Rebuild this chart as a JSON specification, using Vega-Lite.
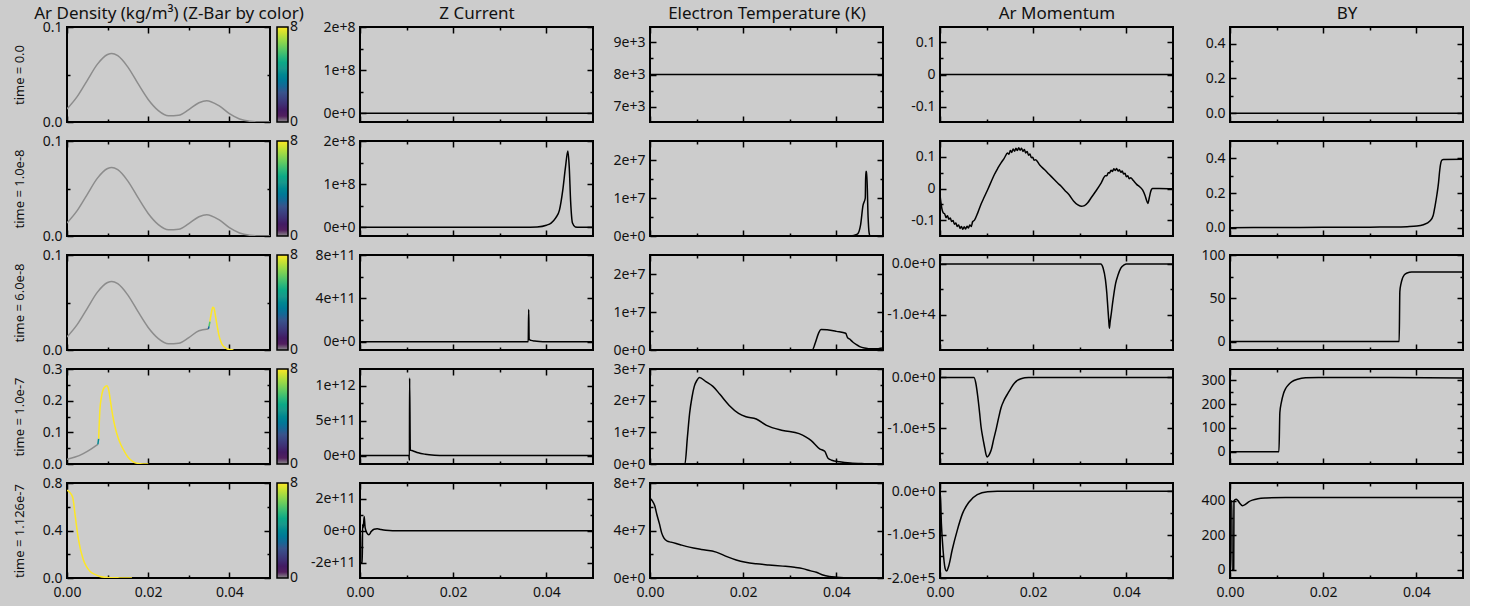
{
"$schema":"https://vega.github.io/schema/vega-lite/v6.json",
"background":"#cccccc",
"padding":{"left":12,"top":3,"right":5,"bottom":5},
"columns":5,
"spacing":{"row":3,"column":0},
"align":"each",
"resolve":{"scale":{"color":"independent"},"legend":{"color":"independent"}},
"config":{
 "font":"Noto Sans",
 "view":{"stroke":"black","strokeWidth":2},
 "axis":{"domain":false,"grid":false,"tickColor":"black","tickWidth":1.5,"labelFont":"Noto Sans","labelFontSize":14,"labelColor":"#111111","labelPadding":11,"labelFlush":false,"labelOverlap":false,"labelBound":false,"titleFont":"Noto Sans","titleFontSize":13,"titleFontWeight":"normal","titleColor":"#111111"},
 "axisTop":{"titleFontSize":17,"titlePadding":5,"minExtent":0,"maxExtent":0},
 "legend":{"labelFont":"Noto Sans","labelFontSize":14,"labelColor":"#111111"}
},
"datasets":{
 "dens_a":[{"x":0,"y":0.0137,"z":0,"seg":"a"},{"x":0.0025,"y":0.0267,"z":0,"seg":"a"},{"x":0.005,"y":0.0439,"z":0,"seg":"a"},{"x":0.0075,"y":0.0609,"z":0,"seg":"a"},{"x":0.01,"y":0.071,"z":0,"seg":"a"},{"x":0.011,"y":0.0722,"z":0,"seg":"a"},{"x":0.0125,"y":0.0698,"z":0,"seg":"a"},{"x":0.015,"y":0.0578,"z":0,"seg":"a"},{"x":0.0175,"y":0.0403,"z":0,"seg":"a"},{"x":0.02,"y":0.0237,"z":0,"seg":"a"},{"x":0.0225,"y":0.012,"z":0,"seg":"a"},{"x":0.025,"y":0.0065,"z":0,"seg":"a"},{"x":0.0275,"y":0.0071,"z":0,"seg":"a"},{"x":0.03,"y":0.0131,"z":0,"seg":"a"},{"x":0.0325,"y":0.0203,"z":0,"seg":"a"},{"x":0.0344,"y":0.0225,"z":0,"seg":"a"},{"x":0.0375,"y":0.0169,"z":0,"seg":"a"},{"x":0.04,"y":0.0088,"z":0,"seg":"a"},{"x":0.0425,"y":0.0032,"z":0,"seg":"a"},{"x":0.045,"y":0.0008,"z":0,"seg":"a"},{"x":0.0475,"y":0.0001,"z":0,"seg":"a"},{"x":0.05,"y":0,"z":0,"seg":"a"}],
 "dens_r3":[{"x":0,"y":0.0137,"z":0,"seg":"a"},{"x":0.0025,"y":0.0267,"z":0,"seg":"a"},{"x":0.005,"y":0.0439,"z":0,"seg":"a"},{"x":0.0075,"y":0.0609,"z":0,"seg":"a"},{"x":0.01,"y":0.071,"z":0,"seg":"a"},{"x":0.011,"y":0.0722,"z":0,"seg":"a"},{"x":0.0125,"y":0.0698,"z":0,"seg":"a"},{"x":0.015,"y":0.0578,"z":0,"seg":"a"},{"x":0.0175,"y":0.0403,"z":0,"seg":"a"},{"x":0.02,"y":0.0237,"z":0,"seg":"a"},{"x":0.0225,"y":0.012,"z":0,"seg":"a"},{"x":0.025,"y":0.0065,"z":0,"seg":"a"},{"x":0.0275,"y":0.0071,"z":0,"seg":"a"},{"x":0.03,"y":0.0131,"z":0,"seg":"a"},{"x":0.0325,"y":0.0203,"z":0,"seg":"a"},{"x":0.0348,"y":0.0221,"z":0,"seg":"a"},
  {"x":0.0348,"y":0.0221,"z":3,"seg":"b"},{"x":0.035,"y":0.025,"z":3,"seg":"b"},
  {"x":0.035,"y":0.025,"z":6,"seg":"c"},{"x":0.0352,"y":0.03,"z":6,"seg":"c"},
  {"x":0.0352,"y":0.03,"z":8,"seg":"d"},{"x":0.0356,"y":0.04,"z":8,"seg":"d"},{"x":0.0359,"y":0.045,"z":8,"seg":"d"},{"x":0.0362,"y":0.044,"z":8,"seg":"d"},{"x":0.0366,"y":0.035,"z":8,"seg":"d"},{"x":0.037,"y":0.025,"z":8,"seg":"d"},{"x":0.0374,"y":0.016,"z":8,"seg":"d"},{"x":0.0378,"y":0.01,"z":8,"seg":"d"},{"x":0.0382,"y":0.006,"z":8,"seg":"d"},{"x":0.0388,"y":0.003,"z":8,"seg":"d"},{"x":0.0395,"y":0.001,"z":8,"seg":"d"},{"x":0.041,"y":0,"z":8,"seg":"d"}],
 "dens_r4":[{"x":0,"y":0.015,"z":0,"seg":"a"},{"x":0.002,"y":0.022,"z":0,"seg":"a"},{"x":0.004,"y":0.033,"z":0,"seg":"a"},{"x":0.006,"y":0.048,"z":0,"seg":"a"},{"x":0.0076,"y":0.062,"z":0,"seg":"a"},
  {"x":0.0076,"y":0.062,"z":4,"seg":"b"},{"x":0.0078,"y":0.08,"z":4,"seg":"b"},
  {"x":0.0078,"y":0.08,"z":8,"seg":"d"},{"x":0.0081,"y":0.17,"z":8,"seg":"d"},{"x":0.0085,"y":0.213,"z":8,"seg":"d"},{"x":0.0091,"y":0.24,"z":8,"seg":"d"},{"x":0.0098,"y":0.247,"z":8,"seg":"d"},{"x":0.0103,"y":0.232,"z":8,"seg":"d"},{"x":0.0108,"y":0.19,"z":8,"seg":"d"},{"x":0.0113,"y":0.15,"z":8,"seg":"d"},{"x":0.0118,"y":0.119,"z":8,"seg":"d"},{"x":0.0126,"y":0.082,"z":8,"seg":"d"},{"x":0.0133,"y":0.06,"z":8,"seg":"d"},{"x":0.0139,"y":0.045,"z":8,"seg":"d"},{"x":0.015,"y":0.022,"z":8,"seg":"d"},{"x":0.0163,"y":0.007,"z":8,"seg":"d"},{"x":0.018,"y":0.001,"z":8,"seg":"d"},{"x":0.02,"y":0,"z":8,"seg":"d"}],
 "dens_r5":[{"x":0,"y":0.74,"z":8,"seg":"d"},{"x":0.0007,"y":0.72,"z":8,"seg":"d"},{"x":0.0014,"y":0.68,"z":8,"seg":"d"},{"x":0.002,"y":0.53,"z":8,"seg":"d"},{"x":0.0028,"y":0.33,"z":8,"seg":"d"},{"x":0.004,"y":0.155,"z":8,"seg":"d"},{"x":0.0048,"y":0.095,"z":8,"seg":"d"},{"x":0.0057,"y":0.055,"z":8,"seg":"d"},{"x":0.007,"y":0.028,"z":8,"seg":"d"},{"x":0.0081,"y":0.013,"z":8,"seg":"d"},{"x":0.0095,"y":0.006,"z":8,"seg":"d"},{"x":0.0106,"y":0.003,"z":8,"seg":"d"},{"x":0.013,"y":0.001,"z":8,"seg":"d"},{"x":0.016,"y":0,"z":8,"seg":"d"}],
 "flat0":[{"x":0,"y":0},{"x":0.05,"y":0}],
 "te_r1":[{"x":0,"y":8000},{"x":0.05,"y":8000}],
 "zc_r2":[{"x":0,"y":0},{"x":0.035,"y":0},{"x":0.038,"y":1e6},{"x":0.04,"y":5e6},{"x":0.041,"y":1e7},{"x":0.042,"y":2.2e7},{"x":0.0428,"y":4e7},{"x":0.0435,"y":8.5e7},{"x":0.0441,"y":1.4e8},{"x":0.0446,"y":1.77e8},{"x":0.0449,"y":1.4e8},{"x":0.0452,"y":6e7},{"x":0.0456,"y":1e7},{"x":0.0462,"y":1e6},{"x":0.047,"y":0},{"x":0.05,"y":0}],
 "zc_r3":[{"x":0,"y":0},{"x":0.0361,"y":0},{"x":0.0362,"y":2.96e11},{"x":0.0363,"y":2e10},{"x":0.0367,"y":1.2e10},{"x":0.0375,"y":6e9},{"x":0.0385,"y":2e9},{"x":0.04,"y":0},{"x":0.05,"y":0}],
 "zc_r4":[{"x":0,"y":0},{"x":0.0105,"y":0},{"x":0.0106,"y":-7e10},{"x":0.01065,"y":1.11e12},{"x":0.0108,"y":8e10},{"x":0.0113,"y":7e10},{"x":0.0125,"y":4e10},{"x":0.014,"y":2e10},{"x":0.016,"y":6e9},{"x":0.018,"y":0},{"x":0.05,"y":0}],
 "zc_r5":[{"x":0,"y":0},{"x":0.0001,"y":0},{"x":0.00015,"y":-2e11},{"x":0.0005,"y":-2e11},{"x":0.00055,"y":4e10},{"x":0.0007,"y":2e10},{"x":0.0009,"y":9e10},{"x":0.0011,"y":2e10},{"x":0.0015,"y":-1.5e10},{"x":0.0019,"y":-2.5e10},{"x":0.0024,"y":-5e9},{"x":0.003,"y":1e10},{"x":0.0037,"y":1.3e10},{"x":0.0045,"y":8e9},{"x":0.0055,"y":3e9},{"x":0.007,"y":0},{"x":0.05,"y":0}],
 "te_r2":[{"x":0,"y":0},{"x":0.043,"y":0},{"x":0.0445,"y":5e5},{"x":0.0452,"y":3e6},{"x":0.0457,"y":8e6},{"x":0.0462,"y":1e7},{"x":0.0463,"y":1.7e7},{"x":0.0465,"y":1.7e7},{"x":0.0468,"y":5e6},{"x":0.047,"y":1e6},{"x":0.0472,"y":0},{"x":0.05,"y":0}],
 "te_r3":[{"x":0,"y":0},{"x":0.0348,"y":0},{"x":0.0355,"y":2e6},{"x":0.0362,"y":4.5e6},{"x":0.0367,"y":5.4e6},{"x":0.038,"y":5.3e6},{"x":0.04,"y":4.9e6},{"x":0.042,"y":4.4e6},{"x":0.0424,"y":3.2e6},{"x":0.0428,"y":2.9e6},{"x":0.0435,"y":2.1e6},{"x":0.0443,"y":1.4e6},{"x":0.045,"y":9e5},{"x":0.046,"y":5e5},{"x":0.047,"y":3.5e5},{"x":0.048,"y":3e5},{"x":0.049,"y":3.5e5},{"x":0.05,"y":5e5}],
 "te_r4":[{"x":0,"y":0},{"x":0.0075,"y":0},{"x":0.008,"y":8e6},{"x":0.0085,"y":1.6e7},{"x":0.009,"y":2.1e7},{"x":0.0095,"y":2.45e7},{"x":0.0101,"y":2.65e7},{"x":0.0106,"y":2.73e7},{"x":0.012,"y":2.6e7},{"x":0.0135,"y":2.45e7},{"x":0.015,"y":2.2e7},{"x":0.017,"y":1.85e7},{"x":0.019,"y":1.6e7},{"x":0.0206,"y":1.49e7},{"x":0.0228,"y":1.42e7},{"x":0.025,"y":1.22e7},{"x":0.0285,"y":1.06e7},{"x":0.032,"y":9.6e6},{"x":0.0335,"y":8.5e6},{"x":0.0346,"y":7.4e6},{"x":0.0364,"y":4.8e6},{"x":0.0375,"y":4e6},{"x":0.0382,"y":1.8e6},{"x":0.039,"y":1.2e6},{"x":0.0407,"y":7e5},{"x":0.043,"y":3e5},{"x":0.046,"y":1e5},{"x":0.05,"y":0}],
 "te_r5":[{"x":0,"y":6.7e7},{"x":0.0005,"y":6.5e7},{"x":0.001,"y":6.1e7},{"x":0.0015,"y":5.3e7},{"x":0.002,"y":4.6e7},{"x":0.0025,"y":3.8e7},{"x":0.003,"y":3.35e7},{"x":0.0037,"y":3.1e7},{"x":0.0045,"y":3.02e7},{"x":0.0065,"y":2.8e7},{"x":0.00845,"y":2.6e7},{"x":0.011,"y":2.4e7},{"x":0.0142,"y":2.18e7},{"x":0.0165,"y":1.8e7},{"x":0.0185,"y":1.52e7},{"x":0.0205,"y":1.33e7},{"x":0.0228,"y":1.2e7},{"x":0.0255,"y":1.1e7},{"x":0.0285,"y":1e7},{"x":0.031,"y":9e6},{"x":0.0328,"y":7.9e6},{"x":0.0345,"y":6e6},{"x":0.0357,"y":4.8e6},{"x":0.0371,"y":2.5e6},{"x":0.0385,"y":1.3e6},{"x":0.04,"y":7e5},{"x":0.043,"y":1e5},{"x":0.05,"y":0}],
 "am_r2":[{"x":0,"y":-0.02},{"x":0.0003,"y":-0.055},{"x":0.0007,"y":-0.077},
  {"x":0.001,"y":-0.08},{"x":0.0013,"y":-0.092},{"x":0.0016,"y":-0.086},{"x":0.0019,"y":-0.097},{"x":0.0022,"y":-0.093},{"x":0.0025,"y":-0.104},{"x":0.0028,"y":-0.101},{"x":0.0031,"y":-0.113},{"x":0.0034,"y":-0.109},{"x":0.0037,"y":-0.12},{"x":0.004,"y":-0.115},{"x":0.0043,"y":-0.126},{"x":0.0046,"y":-0.12},{"x":0.0049,"y":-0.129},{"x":0.0052,"y":-0.121},{"x":0.0055,"y":-0.128},{"x":0.0058,"y":-0.119},{"x":0.0061,"y":-0.125},{"x":0.0064,"y":-0.115},{"x":0.0067,"y":-0.12},{"x":0.007,"y":-0.105},
  {"x":0.0074,"y":-0.1},{"x":0.0081,"y":-0.077},{"x":0.0088,"y":-0.05},{"x":0.0095,"y":-0.027},{"x":0.01025,"y":-0.003},{"x":0.011,"y":0.022},{"x":0.0117,"y":0.045},{"x":0.0124,"y":0.064},{"x":0.0131,"y":0.081},{"x":0.0138,"y":0.096},
  {"x":0.0145,"y":0.112},{"x":0.0148,"y":0.108},{"x":0.0151,"y":0.12},{"x":0.0154,"y":0.114},{"x":0.0157,"y":0.125},{"x":0.016,"y":0.118},{"x":0.0163,"y":0.127},{"x":0.0166,"y":0.12},{"x":0.0169,"y":0.129},{"x":0.0172,"y":0.121},{"x":0.0175,"y":0.127},{"x":0.0178,"y":0.117},{"x":0.0181,"y":0.123},{"x":0.0184,"y":0.112},{"x":0.0187,"y":0.117},{"x":0.019,"y":0.105},{"x":0.0193,"y":0.109},{"x":0.0196,"y":0.097},{"x":0.0199,"y":0.099},{"x":0.0202,"y":0.089},{"x":0.0205,"y":0.091},
  {"x":0.0214,"y":0.074},{"x":0.0224,"y":0.06},{"x":0.0234,"y":0.045},{"x":0.0244,"y":0.03},{"x":0.0252,"y":0.018},{"x":0.026,"y":0.007},{"x":0.0268,"y":-0.006},{"x":0.0277,"y":-0.02},{"x":0.0287,"y":-0.04},{"x":0.0295,"y":-0.051},{"x":0.0303,"y":-0.056},{"x":0.031,"y":-0.054},{"x":0.0317,"y":-0.045},{"x":0.0324,"y":-0.03},{"x":0.0335,"y":-0.007},{"x":0.0346,"y":0.018},
  {"x":0.0355,"y":0.04},{"x":0.0358,"y":0.04},{"x":0.0361,"y":0.05},{"x":0.0364,"y":0.049},{"x":0.0367,"y":0.058},{"x":0.037,"y":0.054},{"x":0.0373,"y":0.062},{"x":0.0376,"y":0.057},{"x":0.0379,"y":0.063},{"x":0.0382,"y":0.055},{"x":0.0385,"y":0.059},{"x":0.0388,"y":0.051},{"x":0.0391,"y":0.055},{"x":0.0394,"y":0.046},{"x":0.0397,"y":0.048},{"x":0.04,"y":0.037},{"x":0.0403,"y":0.04},{"x":0.0406,"y":0.031},{"x":0.0409,"y":0.034},
  {"x":0.0415,"y":0.025},{"x":0.0422,"y":0.013},{"x":0.0429,"y":0.005},{"x":0.0435,"y":-0.005},{"x":0.044,"y":-0.022},{"x":0.0443,"y":-0.036},{"x":0.0446,"y":-0.047},{"x":0.0449,"y":-0.03},{"x":0.0452,"y":-0.01},{"x":0.0456,"y":0},{"x":0.047,"y":0},{"x":0.05,"y":-0.001}],
 "am_r3":[{"x":0,"y":0},{"x":0.0345,"y":0},{"x":0.035,"y":-800},{"x":0.0355,"y":-3100},{"x":0.0358,"y":-5800},{"x":0.036,"y":-8400},{"x":0.0362,"y":-11000},{"x":0.03635,"y":-12700},{"x":0.0365,"y":-11500},{"x":0.0368,"y":-9500},{"x":0.037,"y":-8000},{"x":0.0373,"y":-6000},{"x":0.0377,"y":-3800},{"x":0.0382,"y":-2200},{"x":0.0388,"y":-850},{"x":0.0395,"y":-200},{"x":0.04,"y":0},{"x":0.05,"y":0}],
 "am_r4":[{"x":0,"y":0},{"x":0.0073,"y":0},{"x":0.0077,"y":-12000},{"x":0.0081,"y":-37500},{"x":0.0085,"y":-70000},{"x":0.0088,"y":-97000},{"x":0.0092,"y":-120000},{"x":0.0096,"y":-139000},{"x":0.0099,"y":-153000},{"x":0.0101,"y":-157000},{"x":0.0104,"y":-155000},{"x":0.0107,"y":-150000},{"x":0.011,"y":-143000},{"x":0.0115,"y":-123000},{"x":0.0121,"y":-100000},{"x":0.0126,"y":-79000},{"x":0.0131,"y":-60000},{"x":0.0138,"y":-44000},{"x":0.0146,"y":-31000},{"x":0.0153,"y":-20000},{"x":0.016,"y":-11000},{"x":0.0167,"y":-5500},{"x":0.0174,"y":-2600},{"x":0.0182,"y":-800},{"x":0.019,"y":0},{"x":0.05,"y":0}],
 "am_r5":[{"x":0,"y":0},{"x":0.00005,"y":0},{"x":0.0003,"y":-75000},{"x":0.00066,"y":-136000},{"x":0.0011,"y":-178000},{"x":0.0014,"y":-184000},{"x":0.0019,"y":-171000},{"x":0.0026,"y":-136000},{"x":0.0037,"y":-90000},{"x":0.0048,"y":-52000},{"x":0.0062,"y":-25000},{"x":0.008,"y":-7600},{"x":0.0102,"y":-1000},{"x":0.0123,"y":0},{"x":0.05,"y":0}],
 "by_r2":[{"x":0,"y":0},{"x":0.01,"y":0.001},{"x":0.02,"y":0.002},{"x":0.03,"y":0.003},{"x":0.035,"y":0.004},{"x":0.038,"y":0.006},{"x":0.0401,"y":0.009},{"x":0.0415,"y":0.017},{"x":0.0429,"y":0.038},{"x":0.0436,"y":0.07},{"x":0.044,"y":0.125},{"x":0.0444,"y":0.19},{"x":0.04475,"y":0.26},{"x":0.045,"y":0.33},{"x":0.04525,"y":0.375},{"x":0.0455,"y":0.39},{"x":0.0458,"y":0.394},{"x":0.05,"y":0.395}],
 "by_r3":[{"x":0,"y":0},{"x":0.0363,"y":0},{"x":0.03645,"y":58},{"x":0.0367,"y":67},{"x":0.037,"y":73},{"x":0.0374,"y":77},{"x":0.038,"y":79.3},{"x":0.039,"y":80.3},{"x":0.05,"y":80.5}],
 "by_r4":[{"x":0,"y":0},{"x":0.0105,"y":0},{"x":0.0107,"y":165},{"x":0.011,"y":205},{"x":0.0115,"y":246},{"x":0.012,"y":268},{"x":0.0127,"y":285},{"x":0.0133,"y":295},{"x":0.0145,"y":305},{"x":0.0162,"y":311},{"x":0.019,"y":312},{"x":0.03,"y":312},{"x":0.05,"y":310}],
 "by_r5":[{"x":0,"y":398},{"x":0.0004,"y":398},{"x":0.00045,"y":0},{"x":0.0008,"y":0},{"x":0.00085,"y":398},{"x":0.0013,"y":408},{"x":0.0017,"y":400},{"x":0.0021,"y":385},{"x":0.0027,"y":371},{"x":0.0033,"y":378},{"x":0.004,"y":393},{"x":0.0048,"y":403},{"x":0.006,"y":411},{"x":0.0077,"y":415},{"x":0.012,"y":418},{"x":0.05,"y":418}]
},
"concat":[
 {"width":203,"height":95,"data":{"name":"dens_a"},
  "layer":[
   {"mark":{"type":"line","strokeWidth":1.5,"interpolate":"monotone","clip":true},
    "encoding":{
     "x":{"field":"x","type":"quantitative","scale":{"domain":[0,0.05],"nice":false,"zero":false},"axis":{"orient":"bottom","values":[0,0.01,0.02,0.03,0.04],"tickSize":{"condition":{"test":"indexof([0,0.02,0.04],datum.value)>=0","value":-6},"value":-3},"labels":false,"title":null}},
     "y":{"field":"y","type":"quantitative","scale":{"domain":[0,0.1],"nice":false,"zero":false},"axis":{"orient":"left","values":[0,0.05,0.1],"tickSize":{"condition":{"test":"indexof([0,0.1],datum.value)>=0","value":-6},"value":-3},"labelExpr":"indexof([0,0.1],datum.value)>=0 ? ['0.0','0.1'][indexof([0,0.1],datum.value)] : ''","title":"time = 0.0","titlePadding":15,"minExtent":26}},
     "color":{"field":"z","type":"quantitative","scale":{"domain":[0,0.6,2.45,4.3,6.15,8],"range":["#8c8c8c","#440154","#3b528b","#21918c","#5ec962","#fde725"],"nice":false,"zero":false},"legend":{"values":[0,8],"title":null,"gradientLength":95,"gradientThickness":11,"gradientStrokeColor":"black","gradientStrokeWidth":1.5,"offset":6,"labelPadding":6,"labelOverlap":false,"direction":"vertical","orient":"right","encode":{"labels":{"update":{"baseline":{"value":"middle"}}}}}},
     "detail":{"field":"seg"}}},
   {"mark":{"type":"line","strokeOpacity":0},
    "encoding":{
     "x":{"field":"x","type":"quantitative","scale":{"domain":[0,0.05],"nice":false,"zero":false},"axis":{"orient":"top","values":[0,0.01,0.02,0.03,0.04],"tickSize":{"condition":{"test":"indexof([0,0.02,0.04],datum.value)>=0","value":-6},"value":-3},"labels":false,"title":"Ar Density (kg/m³) (Z-Bar by color)"}},
     "y":{"field":"y","type":"quantitative","scale":{"domain":[0,0.1],"nice":false,"zero":false},"axis":{"orient":"right","values":[0,0.05,0.1],"tickSize":{"condition":{"test":"indexof([0,0.1],datum.value)>=0","value":-6},"value":-3},"labels":false,"title":null}}}}
  ],
  "resolve":{"axis":{"x":"independent","y":"independent"}}},
 {"width":233,"height":95,"data":{"name":"flat0"},
  "layer":[
   {"mark":{"type":"line","color":"black","strokeWidth":1.5,"interpolate":"monotone","clip":true},
    "encoding":{
     "x":{"field":"x","type":"quantitative","scale":{"domain":[0,0.05],"nice":false,"zero":false},"axis":{"orient":"bottom","values":[0,0.01,0.02,0.03,0.04],"tickSize":{"condition":{"test":"indexof([0,0.02,0.04],datum.value)>=0","value":-6},"value":-3},"labels":false,"title":null}},
     "y":{"field":"y","type":"quantitative","scale":{"domain":[-2e7,2e8],"nice":false,"zero":false},"axis":{"orient":"left","values":[0,5e7,1e8,1.5e8,2e8],"tickSize":{"condition":{"test":"indexof([0,1e8,2e8],datum.value)>=0","value":-6},"value":-3},"labelExpr":"indexof([0,1e8,2e8],datum.value)>=0 ? ['0e+0','1e+8','2e+8'][indexof([0,1e8,2e8],datum.value)] : ''","title":null,"minExtent":54}}}},
   {"mark":{"type":"line","strokeOpacity":0},
    "encoding":{
     "x":{"field":"x","type":"quantitative","scale":{"domain":[0,0.05],"nice":false,"zero":false},"axis":{"orient":"top","values":[0,0.01,0.02,0.03,0.04],"tickSize":{"condition":{"test":"indexof([0,0.02,0.04],datum.value)>=0","value":-6},"value":-3},"labels":false,"title":"Z Current"}},
     "y":{"field":"y","type":"quantitative","scale":{"domain":[-2e7,2e8],"nice":false,"zero":false},"axis":{"orient":"right","values":[0,5e7,1e8,1.5e8,2e8],"tickSize":{"condition":{"test":"indexof([0,1e8,2e8],datum.value)>=0","value":-6},"value":-3},"labels":false,"title":null}}}}
  ],
  "resolve":{"axis":{"x":"independent","y":"independent"}}},
 {"width":233,"height":95,"data":{"name":"te_r1"},
  "layer":[
   {"mark":{"type":"line","color":"black","strokeWidth":1.5,"interpolate":"monotone","clip":true},
    "encoding":{
     "x":{"field":"x","type":"quantitative","scale":{"domain":[0,0.05],"nice":false,"zero":false},"axis":{"orient":"bottom","values":[0,0.01,0.02,0.03,0.04],"tickSize":{"condition":{"test":"indexof([0,0.02,0.04],datum.value)>=0","value":-6},"value":-3},"labels":false,"title":null}},
     "y":{"field":"y","type":"quantitative","scale":{"domain":[6520,9480],"nice":false,"zero":false},"axis":{"orient":"left","values":[7000,7500,8000,8500,9000],"tickSize":{"condition":{"test":"indexof([7000,8000,9000],datum.value)>=0","value":-6},"value":-3},"labelExpr":"indexof([7000,8000,9000],datum.value)>=0 ? ['7e+3','8e+3','9e+3'][indexof([7000,8000,9000],datum.value)] : ''","title":null,"minExtent":54}}}},
   {"mark":{"type":"line","strokeOpacity":0},
    "encoding":{
     "x":{"field":"x","type":"quantitative","scale":{"domain":[0,0.05],"nice":false,"zero":false},"axis":{"orient":"top","values":[0,0.01,0.02,0.03,0.04],"tickSize":{"condition":{"test":"indexof([0,0.02,0.04],datum.value)>=0","value":-6},"value":-3},"labels":false,"title":"Electron Temperature (K)"}},
     "y":{"field":"y","type":"quantitative","scale":{"domain":[6520,9480],"nice":false,"zero":false},"axis":{"orient":"right","values":[7000,7500,8000,8500,9000],"tickSize":{"condition":{"test":"indexof([7000,8000,9000],datum.value)>=0","value":-6},"value":-3},"labels":false,"title":null}}}}
  ],
  "resolve":{"axis":{"x":"independent","y":"independent"}}},
 {"width":233,"height":95,"data":{"name":"flat0"},
  "layer":[
   {"mark":{"type":"line","color":"black","strokeWidth":1.5,"interpolate":"monotone","clip":true},
    "encoding":{
     "x":{"field":"x","type":"quantitative","scale":{"domain":[0,0.05],"nice":false,"zero":false},"axis":{"orient":"bottom","values":[0,0.01,0.02,0.03,0.04],"tickSize":{"condition":{"test":"indexof([0,0.02,0.04],datum.value)>=0","value":-6},"value":-3},"labels":false,"title":null}},
     "y":{"field":"y","type":"quantitative","scale":{"domain":[-0.147,0.147],"nice":false,"zero":false},"axis":{"orient":"left","values":[-0.1,-0.05,0,0.05,0.1],"tickSize":{"condition":{"test":"indexof([-0.1,0,0.1],datum.value)>=0","value":-6},"value":-3},"labelExpr":"indexof([-0.1,0,0.1],datum.value)>=0 ? ['-0.1','0','0.1'][indexof([-0.1,0,0.1],datum.value)] : ''","title":null,"minExtent":54}}}},
   {"mark":{"type":"line","strokeOpacity":0},
    "encoding":{
     "x":{"field":"x","type":"quantitative","scale":{"domain":[0,0.05],"nice":false,"zero":false},"axis":{"orient":"top","values":[0,0.01,0.02,0.03,0.04],"tickSize":{"condition":{"test":"indexof([0,0.02,0.04],datum.value)>=0","value":-6},"value":-3},"labels":false,"title":"Ar Momentum"}},
     "y":{"field":"y","type":"quantitative","scale":{"domain":[-0.147,0.147],"nice":false,"zero":false},"axis":{"orient":"right","values":[-0.1,-0.05,0,0.05,0.1],"tickSize":{"condition":{"test":"indexof([-0.1,0,0.1],datum.value)>=0","value":-6},"value":-3},"labels":false,"title":null}}}}
  ],
  "resolve":{"axis":{"x":"independent","y":"independent"}}},
 {"width":233,"height":95,"data":{"name":"flat0"},
  "layer":[
   {"mark":{"type":"line","color":"black","strokeWidth":1.5,"interpolate":"monotone","clip":true},
    "encoding":{
     "x":{"field":"x","type":"quantitative","scale":{"domain":[0,0.05],"nice":false,"zero":false},"axis":{"orient":"bottom","values":[0,0.01,0.02,0.03,0.04],"tickSize":{"condition":{"test":"indexof([0,0.02,0.04],datum.value)>=0","value":-6},"value":-3},"labels":false,"title":null}},
     "y":{"field":"y","type":"quantitative","scale":{"domain":[-0.05,0.495],"nice":false,"zero":false},"axis":{"orient":"left","values":[0,0.1,0.2,0.3,0.4],"tickSize":{"condition":{"test":"indexof([0,0.2,0.4],datum.value)>=0","value":-6},"value":-3},"labelExpr":"indexof([0,0.2,0.4],datum.value)>=0 ? ['0.0','0.2','0.4'][indexof([0,0.2,0.4],datum.value)] : ''","title":null,"minExtent":54}}}},
   {"mark":{"type":"line","strokeOpacity":0},
    "encoding":{
     "x":{"field":"x","type":"quantitative","scale":{"domain":[0,0.05],"nice":false,"zero":false},"axis":{"orient":"top","values":[0,0.01,0.02,0.03,0.04],"tickSize":{"condition":{"test":"indexof([0,0.02,0.04],datum.value)>=0","value":-6},"value":-3},"labels":false,"title":"BY"}},
     "y":{"field":"y","type":"quantitative","scale":{"domain":[-0.05,0.495],"nice":false,"zero":false},"axis":{"orient":"right","values":[0,0.1,0.2,0.3,0.4],"tickSize":{"condition":{"test":"indexof([0,0.2,0.4],datum.value)>=0","value":-6},"value":-3},"labels":false,"title":null}}}}
  ],
  "resolve":{"axis":{"x":"independent","y":"independent"}}},

 {"width":203,"height":95,"data":{"name":"dens_a"},
  "layer":[
   {"mark":{"type":"line","strokeWidth":1.5,"interpolate":"monotone","clip":true},
    "encoding":{
     "x":{"field":"x","type":"quantitative","scale":{"domain":[0,0.05],"nice":false,"zero":false},"axis":{"orient":"bottom","values":[0,0.01,0.02,0.03,0.04],"tickSize":{"condition":{"test":"indexof([0,0.02,0.04],datum.value)>=0","value":-6},"value":-3},"labels":false,"title":null}},
     "y":{"field":"y","type":"quantitative","scale":{"domain":[0,0.1],"nice":false,"zero":false},"axis":{"orient":"left","values":[0,0.05,0.1],"tickSize":{"condition":{"test":"indexof([0,0.1],datum.value)>=0","value":-6},"value":-3},"labelExpr":"indexof([0,0.1],datum.value)>=0 ? ['0.0','0.1'][indexof([0,0.1],datum.value)] : ''","title":"time = 1.0e-8","titlePadding":15,"minExtent":26}},
     "color":{"field":"z","type":"quantitative","scale":{"domain":[0,0.6,2.45,4.3,6.15,8],"range":["#8c8c8c","#440154","#3b528b","#21918c","#5ec962","#fde725"],"nice":false,"zero":false},"legend":{"values":[0,8],"title":null,"gradientLength":95,"gradientThickness":11,"gradientStrokeColor":"black","gradientStrokeWidth":1.5,"offset":6,"labelPadding":6,"labelOverlap":false,"direction":"vertical","orient":"right","encode":{"labels":{"update":{"baseline":{"value":"middle"}}}}}},
     "detail":{"field":"seg"}}},
   {"mark":{"type":"line","strokeOpacity":0},
    "encoding":{
     "x":{"field":"x","type":"quantitative","scale":{"domain":[0,0.05],"nice":false,"zero":false},"axis":{"orient":"top","values":[0,0.01,0.02,0.03,0.04],"tickSize":{"condition":{"test":"indexof([0,0.02,0.04],datum.value)>=0","value":-6},"value":-3},"labels":false,"title":null}},
     "y":{"field":"y","type":"quantitative","scale":{"domain":[0,0.1],"nice":false,"zero":false},"axis":{"orient":"right","values":[0,0.05,0.1],"tickSize":{"condition":{"test":"indexof([0,0.1],datum.value)>=0","value":-6},"value":-3},"labels":false,"title":null}}}}
  ],
  "resolve":{"axis":{"x":"independent","y":"independent"}}},
 {"width":233,"height":95,"data":{"name":"zc_r2"},
  "layer":[
   {"mark":{"type":"line","color":"black","strokeWidth":1.5,"interpolate":"monotone","clip":true},
    "encoding":{
     "x":{"field":"x","type":"quantitative","scale":{"domain":[0,0.05],"nice":false,"zero":false},"axis":{"orient":"bottom","values":[0,0.01,0.02,0.03,0.04],"tickSize":{"condition":{"test":"indexof([0,0.02,0.04],datum.value)>=0","value":-6},"value":-3},"labels":false,"title":null}},
     "y":{"field":"y","type":"quantitative","scale":{"domain":[-2e7,2e8],"nice":false,"zero":false},"axis":{"orient":"left","values":[0,5e7,1e8,1.5e8,2e8],"tickSize":{"condition":{"test":"indexof([0,1e8,2e8],datum.value)>=0","value":-6},"value":-3},"labelExpr":"indexof([0,1e8,2e8],datum.value)>=0 ? ['0e+0','1e+8','2e+8'][indexof([0,1e8,2e8],datum.value)] : ''","title":null,"minExtent":54}}}},
   {"mark":{"type":"line","strokeOpacity":0},
    "encoding":{
     "x":{"field":"x","type":"quantitative","scale":{"domain":[0,0.05],"nice":false,"zero":false},"axis":{"orient":"top","values":[0,0.01,0.02,0.03,0.04],"tickSize":{"condition":{"test":"indexof([0,0.02,0.04],datum.value)>=0","value":-6},"value":-3},"labels":false,"title":null}},
     "y":{"field":"y","type":"quantitative","scale":{"domain":[-2e7,2e8],"nice":false,"zero":false},"axis":{"orient":"right","values":[0,5e7,1e8,1.5e8,2e8],"tickSize":{"condition":{"test":"indexof([0,1e8,2e8],datum.value)>=0","value":-6},"value":-3},"labels":false,"title":null}}}}
  ],
  "resolve":{"axis":{"x":"independent","y":"independent"}}},
 {"width":233,"height":95,"data":{"name":"te_r2"},
  "layer":[
   {"mark":{"type":"line","color":"black","strokeWidth":1.5,"interpolate":"monotone","clip":true},
    "encoding":{
     "x":{"field":"x","type":"quantitative","scale":{"domain":[0,0.05],"nice":false,"zero":false},"axis":{"orient":"bottom","values":[0,0.01,0.02,0.03,0.04],"tickSize":{"condition":{"test":"indexof([0,0.02,0.04],datum.value)>=0","value":-6},"value":-3},"labels":false,"title":null}},
     "y":{"field":"y","type":"quantitative","scale":{"domain":[0,2.5e7],"nice":false,"zero":false},"axis":{"orient":"left","values":[0,5e6,1e7,1.5e7,2e7],"tickSize":{"condition":{"test":"indexof([0,1e7,2e7],datum.value)>=0","value":-6},"value":-3},"labelExpr":"indexof([0,1e7,2e7],datum.value)>=0 ? ['0e+0','1e+7','2e+7'][indexof([0,1e7,2e7],datum.value)] : ''","title":null,"minExtent":54}}}},
   {"mark":{"type":"line","strokeOpacity":0},
    "encoding":{
     "x":{"field":"x","type":"quantitative","scale":{"domain":[0,0.05],"nice":false,"zero":false},"axis":{"orient":"top","values":[0,0.01,0.02,0.03,0.04],"tickSize":{"condition":{"test":"indexof([0,0.02,0.04],datum.value)>=0","value":-6},"value":-3},"labels":false,"title":null}},
     "y":{"field":"y","type":"quantitative","scale":{"domain":[0,2.5e7],"nice":false,"zero":false},"axis":{"orient":"right","values":[0,5e6,1e7,1.5e7,2e7],"tickSize":{"condition":{"test":"indexof([0,1e7,2e7],datum.value)>=0","value":-6},"value":-3},"labels":false,"title":null}}}}
  ],
  "resolve":{"axis":{"x":"independent","y":"independent"}}},
 {"width":233,"height":95,"data":{"name":"am_r2"},
  "layer":[
   {"mark":{"type":"line","color":"black","strokeWidth":1.5,"interpolate":"monotone","clip":true},
    "encoding":{
     "x":{"field":"x","type":"quantitative","scale":{"domain":[0,0.05],"nice":false,"zero":false},"axis":{"orient":"bottom","values":[0,0.01,0.02,0.03,0.04],"tickSize":{"condition":{"test":"indexof([0,0.02,0.04],datum.value)>=0","value":-6},"value":-3},"labels":false,"title":null}},
     "y":{"field":"y","type":"quantitative","scale":{"domain":[-0.15,0.15],"nice":false,"zero":false},"axis":{"orient":"left","values":[-0.1,-0.05,0,0.05,0.1],"tickSize":{"condition":{"test":"indexof([-0.1,0,0.1],datum.value)>=0","value":-6},"value":-3},"labelExpr":"indexof([-0.1,0,0.1],datum.value)>=0 ? ['-0.1','0','0.1'][indexof([-0.1,0,0.1],datum.value)] : ''","title":null,"minExtent":54}}}},
   {"mark":{"type":"line","strokeOpacity":0},
    "encoding":{
     "x":{"field":"x","type":"quantitative","scale":{"domain":[0,0.05],"nice":false,"zero":false},"axis":{"orient":"top","values":[0,0.01,0.02,0.03,0.04],"tickSize":{"condition":{"test":"indexof([0,0.02,0.04],datum.value)>=0","value":-6},"value":-3},"labels":false,"title":null}},
     "y":{"field":"y","type":"quantitative","scale":{"domain":[-0.15,0.15],"nice":false,"zero":false},"axis":{"orient":"right","values":[-0.1,-0.05,0,0.05,0.1],"tickSize":{"condition":{"test":"indexof([-0.1,0,0.1],datum.value)>=0","value":-6},"value":-3},"labels":false,"title":null}}}}
  ],
  "resolve":{"axis":{"x":"independent","y":"independent"}}},
 {"width":233,"height":95,"data":{"name":"by_r2"},
  "layer":[
   {"mark":{"type":"line","color":"black","strokeWidth":1.5,"interpolate":"monotone","clip":true},
    "encoding":{
     "x":{"field":"x","type":"quantitative","scale":{"domain":[0,0.05],"nice":false,"zero":false},"axis":{"orient":"bottom","values":[0,0.01,0.02,0.03,0.04],"tickSize":{"condition":{"test":"indexof([0,0.02,0.04],datum.value)>=0","value":-6},"value":-3},"labels":false,"title":null}},
     "y":{"field":"y","type":"quantitative","scale":{"domain":[-0.048,0.5],"nice":false,"zero":false},"axis":{"orient":"left","values":[0,0.1,0.2,0.3,0.4],"tickSize":{"condition":{"test":"indexof([0,0.2,0.4],datum.value)>=0","value":-6},"value":-3},"labelExpr":"indexof([0,0.2,0.4],datum.value)>=0 ? ['0.0','0.2','0.4'][indexof([0,0.2,0.4],datum.value)] : ''","title":null,"minExtent":54}}}},
   {"mark":{"type":"line","strokeOpacity":0},
    "encoding":{
     "x":{"field":"x","type":"quantitative","scale":{"domain":[0,0.05],"nice":false,"zero":false},"axis":{"orient":"top","values":[0,0.01,0.02,0.03,0.04],"tickSize":{"condition":{"test":"indexof([0,0.02,0.04],datum.value)>=0","value":-6},"value":-3},"labels":false,"title":null}},
     "y":{"field":"y","type":"quantitative","scale":{"domain":[-0.048,0.5],"nice":false,"zero":false},"axis":{"orient":"right","values":[0,0.1,0.2,0.3,0.4],"tickSize":{"condition":{"test":"indexof([0,0.2,0.4],datum.value)>=0","value":-6},"value":-3},"labels":false,"title":null}}}}
  ],
  "resolve":{"axis":{"x":"independent","y":"independent"}}},

 {"width":203,"height":95,"data":{"name":"dens_r3"},
  "layer":[
   {"mark":{"type":"line","strokeWidth":1.5,"interpolate":"monotone","clip":true},
    "encoding":{
     "x":{"field":"x","type":"quantitative","scale":{"domain":[0,0.05],"nice":false,"zero":false},"axis":{"orient":"bottom","values":[0,0.01,0.02,0.03,0.04],"tickSize":{"condition":{"test":"indexof([0,0.02,0.04],datum.value)>=0","value":-6},"value":-3},"labels":false,"title":null}},
     "y":{"field":"y","type":"quantitative","scale":{"domain":[0,0.1],"nice":false,"zero":false},"axis":{"orient":"left","values":[0,0.05,0.1],"tickSize":{"condition":{"test":"indexof([0,0.1],datum.value)>=0","value":-6},"value":-3},"labelExpr":"indexof([0,0.1],datum.value)>=0 ? ['0.0','0.1'][indexof([0,0.1],datum.value)] : ''","title":"time = 6.0e-8","titlePadding":15,"minExtent":26}},
     "color":{"field":"z","type":"quantitative","scale":{"domain":[0,0.6,2.45,4.3,6.15,8],"range":["#8c8c8c","#440154","#3b528b","#21918c","#5ec962","#fde725"],"nice":false,"zero":false},"legend":{"values":[0,8],"title":null,"gradientLength":95,"gradientThickness":11,"gradientStrokeColor":"black","gradientStrokeWidth":1.5,"offset":6,"labelPadding":6,"labelOverlap":false,"direction":"vertical","orient":"right","encode":{"labels":{"update":{"baseline":{"value":"middle"}}}}}},
     "detail":{"field":"seg"}}},
   {"mark":{"type":"line","strokeOpacity":0},
    "encoding":{
     "x":{"field":"x","type":"quantitative","scale":{"domain":[0,0.05],"nice":false,"zero":false},"axis":{"orient":"top","values":[0,0.01,0.02,0.03,0.04],"tickSize":{"condition":{"test":"indexof([0,0.02,0.04],datum.value)>=0","value":-6},"value":-3},"labels":false,"title":null}},
     "y":{"field":"y","type":"quantitative","scale":{"domain":[0,0.1],"nice":false,"zero":false},"axis":{"orient":"right","values":[0,0.05,0.1],"tickSize":{"condition":{"test":"indexof([0,0.1],datum.value)>=0","value":-6},"value":-3},"labels":false,"title":null}}}}
  ],
  "resolve":{"axis":{"x":"independent","y":"independent"}}},
 {"width":233,"height":95,"data":{"name":"zc_r3"},
  "layer":[
   {"mark":{"type":"line","color":"black","strokeWidth":1.5,"interpolate":"monotone","clip":true},
    "encoding":{
     "x":{"field":"x","type":"quantitative","scale":{"domain":[0,0.05],"nice":false,"zero":false},"axis":{"orient":"bottom","values":[0,0.01,0.02,0.03,0.04],"tickSize":{"condition":{"test":"indexof([0,0.02,0.04],datum.value)>=0","value":-6},"value":-3},"labels":false,"title":null}},
     "y":{"field":"y","type":"quantitative","scale":{"domain":[-7.7e10,8e11],"nice":false,"zero":false},"axis":{"orient":"left","values":[0,2e11,4e11,6e11,8e11],"tickSize":{"condition":{"test":"indexof([0,4e11,8e11],datum.value)>=0","value":-6},"value":-3},"labelExpr":"indexof([0,4e11,8e11],datum.value)>=0 ? ['0e+0','4e+11','8e+11'][indexof([0,4e11,8e11],datum.value)] : ''","title":null,"minExtent":54}}}},
   {"mark":{"type":"line","strokeOpacity":0},
    "encoding":{
     "x":{"field":"x","type":"quantitative","scale":{"domain":[0,0.05],"nice":false,"zero":false},"axis":{"orient":"top","values":[0,0.01,0.02,0.03,0.04],"tickSize":{"condition":{"test":"indexof([0,0.02,0.04],datum.value)>=0","value":-6},"value":-3},"labels":false,"title":null}},
     "y":{"field":"y","type":"quantitative","scale":{"domain":[-7.7e10,8e11],"nice":false,"zero":false},"axis":{"orient":"right","values":[0,2e11,4e11,6e11,8e11],"tickSize":{"condition":{"test":"indexof([0,4e11,8e11],datum.value)>=0","value":-6},"value":-3},"labels":false,"title":null}}}}
  ],
  "resolve":{"axis":{"x":"independent","y":"independent"}}},
 {"width":233,"height":95,"data":{"name":"te_r3"},
  "layer":[
   {"mark":{"type":"line","color":"black","strokeWidth":1.5,"interpolate":"monotone","clip":true},
    "encoding":{
     "x":{"field":"x","type":"quantitative","scale":{"domain":[0,0.05],"nice":false,"zero":false},"axis":{"orient":"bottom","values":[0,0.01,0.02,0.03,0.04],"tickSize":{"condition":{"test":"indexof([0,0.02,0.04],datum.value)>=0","value":-6},"value":-3},"labels":false,"title":null}},
     "y":{"field":"y","type":"quantitative","scale":{"domain":[0,2.5e7],"nice":false,"zero":false},"axis":{"orient":"left","values":[0,5e6,1e7,1.5e7,2e7],"tickSize":{"condition":{"test":"indexof([0,1e7,2e7],datum.value)>=0","value":-6},"value":-3},"labelExpr":"indexof([0,1e7,2e7],datum.value)>=0 ? ['0e+0','1e+7','2e+7'][indexof([0,1e7,2e7],datum.value)] : ''","title":null,"minExtent":54}}}},
   {"mark":{"type":"line","strokeOpacity":0},
    "encoding":{
     "x":{"field":"x","type":"quantitative","scale":{"domain":[0,0.05],"nice":false,"zero":false},"axis":{"orient":"top","values":[0,0.01,0.02,0.03,0.04],"tickSize":{"condition":{"test":"indexof([0,0.02,0.04],datum.value)>=0","value":-6},"value":-3},"labels":false,"title":null}},
     "y":{"field":"y","type":"quantitative","scale":{"domain":[0,2.5e7],"nice":false,"zero":false},"axis":{"orient":"right","values":[0,5e6,1e7,1.5e7,2e7],"tickSize":{"condition":{"test":"indexof([0,1e7,2e7],datum.value)>=0","value":-6},"value":-3},"labels":false,"title":null}}}}
  ],
  "resolve":{"axis":{"x":"independent","y":"independent"}}},
 {"width":233,"height":95,"data":{"name":"am_r3"},
  "layer":[
   {"mark":{"type":"line","color":"black","strokeWidth":1.5,"interpolate":"monotone","clip":true},
    "encoding":{
     "x":{"field":"x","type":"quantitative","scale":{"domain":[0,0.05],"nice":false,"zero":false},"axis":{"orient":"bottom","values":[0,0.01,0.02,0.03,0.04],"tickSize":{"condition":{"test":"indexof([0,0.02,0.04],datum.value)>=0","value":-6},"value":-3},"labels":false,"title":null}},
     "y":{"field":"y","type":"quantitative","scale":{"domain":[-17000,1760],"nice":false,"zero":false},"axis":{"orient":"left","values":[-15000,-10000,-5000,0],"tickSize":{"condition":{"test":"indexof([-10000,0],datum.value)>=0","value":-6},"value":-3},"labelExpr":"indexof([-10000,0],datum.value)>=0 ? ['-1.0e+4','0.0e+0'][indexof([-10000,0],datum.value)] : ''","title":null,"minExtent":54}}}},
   {"mark":{"type":"line","strokeOpacity":0},
    "encoding":{
     "x":{"field":"x","type":"quantitative","scale":{"domain":[0,0.05],"nice":false,"zero":false},"axis":{"orient":"top","values":[0,0.01,0.02,0.03,0.04],"tickSize":{"condition":{"test":"indexof([0,0.02,0.04],datum.value)>=0","value":-6},"value":-3},"labels":false,"title":null}},
     "y":{"field":"y","type":"quantitative","scale":{"domain":[-17000,1760],"nice":false,"zero":false},"axis":{"orient":"right","values":[-15000,-10000,-5000,0],"tickSize":{"condition":{"test":"indexof([-10000,0],datum.value)>=0","value":-6},"value":-3},"labels":false,"title":null}}}}
  ],
  "resolve":{"axis":{"x":"independent","y":"independent"}}},
 {"width":233,"height":95,"data":{"name":"by_r3"},
  "layer":[
   {"mark":{"type":"line","color":"black","strokeWidth":1.5,"interpolate":"monotone","clip":true},
    "encoding":{
     "x":{"field":"x","type":"quantitative","scale":{"domain":[0,0.05],"nice":false,"zero":false},"axis":{"orient":"bottom","values":[0,0.01,0.02,0.03,0.04],"tickSize":{"condition":{"test":"indexof([0,0.02,0.04],datum.value)>=0","value":-6},"value":-3},"labels":false,"title":null}},
     "y":{"field":"y","type":"quantitative","scale":{"domain":[-9.7,100],"nice":false,"zero":false},"axis":{"orient":"left","values":[0,25,50,75,100],"tickSize":{"condition":{"test":"indexof([0,50,100],datum.value)>=0","value":-6},"value":-3},"labelExpr":"indexof([0,50,100],datum.value)>=0 ? ['0','50','100'][indexof([0,50,100],datum.value)] : ''","title":null,"minExtent":54}}}},
   {"mark":{"type":"line","strokeOpacity":0},
    "encoding":{
     "x":{"field":"x","type":"quantitative","scale":{"domain":[0,0.05],"nice":false,"zero":false},"axis":{"orient":"top","values":[0,0.01,0.02,0.03,0.04],"tickSize":{"condition":{"test":"indexof([0,0.02,0.04],datum.value)>=0","value":-6},"value":-3},"labels":false,"title":null}},
     "y":{"field":"y","type":"quantitative","scale":{"domain":[-9.7,100],"nice":false,"zero":false},"axis":{"orient":"right","values":[0,25,50,75,100],"tickSize":{"condition":{"test":"indexof([0,50,100],datum.value)>=0","value":-6},"value":-3},"labels":false,"title":null}}}}
  ],
  "resolve":{"axis":{"x":"independent","y":"independent"}}},

 {"width":203,"height":95,"data":{"name":"dens_r4"},
  "layer":[
   {"mark":{"type":"line","strokeWidth":1.5,"interpolate":"monotone","clip":true},
    "encoding":{
     "x":{"field":"x","type":"quantitative","scale":{"domain":[0,0.05],"nice":false,"zero":false},"axis":{"orient":"bottom","values":[0,0.01,0.02,0.03,0.04],"tickSize":{"condition":{"test":"indexof([0,0.02,0.04],datum.value)>=0","value":-6},"value":-3},"labels":false,"title":null}},
     "y":{"field":"y","type":"quantitative","scale":{"domain":[0,0.3],"nice":false,"zero":false},"axis":{"orient":"left","values":[0,0.05,0.1,0.15,0.2,0.25,0.3],"tickSize":{"condition":{"test":"indexof([0,0.1,0.2,0.3],datum.value)>=0","value":-6},"value":-3},"labelExpr":"indexof([0,0.1,0.2,0.3],datum.value)>=0 ? ['0.0','0.1','0.2','0.3'][indexof([0,0.1,0.2,0.3],datum.value)] : ''","title":"time = 1.0e-7","titlePadding":15,"minExtent":26}},
     "color":{"field":"z","type":"quantitative","scale":{"domain":[0,0.6,2.45,4.3,6.15,8],"range":["#8c8c8c","#440154","#3b528b","#21918c","#5ec962","#fde725"],"nice":false,"zero":false},"legend":{"values":[0,8],"title":null,"gradientLength":95,"gradientThickness":11,"gradientStrokeColor":"black","gradientStrokeWidth":1.5,"offset":6,"labelPadding":6,"labelOverlap":false,"direction":"vertical","orient":"right","encode":{"labels":{"update":{"baseline":{"value":"middle"}}}}}},
     "detail":{"field":"seg"}}},
   {"mark":{"type":"line","strokeOpacity":0},
    "encoding":{
     "x":{"field":"x","type":"quantitative","scale":{"domain":[0,0.05],"nice":false,"zero":false},"axis":{"orient":"top","values":[0,0.01,0.02,0.03,0.04],"tickSize":{"condition":{"test":"indexof([0,0.02,0.04],datum.value)>=0","value":-6},"value":-3},"labels":false,"title":null}},
     "y":{"field":"y","type":"quantitative","scale":{"domain":[0,0.3],"nice":false,"zero":false},"axis":{"orient":"right","values":[0,0.05,0.1,0.15,0.2,0.25,0.3],"tickSize":{"condition":{"test":"indexof([0,0.1,0.2,0.3],datum.value)>=0","value":-6},"value":-3},"labels":false,"title":null}}}}
  ],
  "resolve":{"axis":{"x":"independent","y":"independent"}}},
 {"width":233,"height":95,"data":{"name":"zc_r4"},
  "layer":[
   {"mark":{"type":"line","color":"black","strokeWidth":1.5,"interpolate":"monotone","clip":true},
    "encoding":{
     "x":{"field":"x","type":"quantitative","scale":{"domain":[0,0.05],"nice":false,"zero":false},"axis":{"orient":"bottom","values":[0,0.01,0.02,0.03,0.04],"tickSize":{"condition":{"test":"indexof([0,0.02,0.04],datum.value)>=0","value":-6},"value":-3},"labels":false,"title":null}},
     "y":{"field":"y","type":"quantitative","scale":{"domain":[-1.2e11,1.24e12],"nice":false,"zero":false},"axis":{"orient":"left","values":[0,2.5e11,5e11,7.5e11,1e12],"tickSize":{"condition":{"test":"indexof([0,5e11,1e12],datum.value)>=0","value":-6},"value":-3},"labelExpr":"indexof([0,5e11,1e12],datum.value)>=0 ? ['0e+0','5e+11','1e+12'][indexof([0,5e11,1e12],datum.value)] : ''","title":null,"minExtent":54}}}},
   {"mark":{"type":"line","strokeOpacity":0},
    "encoding":{
     "x":{"field":"x","type":"quantitative","scale":{"domain":[0,0.05],"nice":false,"zero":false},"axis":{"orient":"top","values":[0,0.01,0.02,0.03,0.04],"tickSize":{"condition":{"test":"indexof([0,0.02,0.04],datum.value)>=0","value":-6},"value":-3},"labels":false,"title":null}},
     "y":{"field":"y","type":"quantitative","scale":{"domain":[-1.2e11,1.24e12],"nice":false,"zero":false},"axis":{"orient":"right","values":[0,2.5e11,5e11,7.5e11,1e12],"tickSize":{"condition":{"test":"indexof([0,5e11,1e12],datum.value)>=0","value":-6},"value":-3},"labels":false,"title":null}}}}
  ],
  "resolve":{"axis":{"x":"independent","y":"independent"}}},
 {"width":233,"height":95,"data":{"name":"te_r4"},
  "layer":[
   {"mark":{"type":"line","color":"black","strokeWidth":1.5,"interpolate":"monotone","clip":true},
    "encoding":{
     "x":{"field":"x","type":"quantitative","scale":{"domain":[0,0.05],"nice":false,"zero":false},"axis":{"orient":"bottom","values":[0,0.01,0.02,0.03,0.04],"tickSize":{"condition":{"test":"indexof([0,0.02,0.04],datum.value)>=0","value":-6},"value":-3},"labels":false,"title":null}},
     "y":{"field":"y","type":"quantitative","scale":{"domain":[0,3e7],"nice":false,"zero":false},"axis":{"orient":"left","values":[0,5e6,1e7,1.5e7,2e7,2.5e7,3e7],"tickSize":{"condition":{"test":"indexof([0,1e7,2e7,3e7],datum.value)>=0","value":-6},"value":-3},"labelExpr":"indexof([0,1e7,2e7,3e7],datum.value)>=0 ? ['0e+0','1e+7','2e+7','3e+7'][indexof([0,1e7,2e7,3e7],datum.value)] : ''","title":null,"minExtent":54}}}},
   {"mark":{"type":"line","strokeOpacity":0},
    "encoding":{
     "x":{"field":"x","type":"quantitative","scale":{"domain":[0,0.05],"nice":false,"zero":false},"axis":{"orient":"top","values":[0,0.01,0.02,0.03,0.04],"tickSize":{"condition":{"test":"indexof([0,0.02,0.04],datum.value)>=0","value":-6},"value":-3},"labels":false,"title":null}},
     "y":{"field":"y","type":"quantitative","scale":{"domain":[0,3e7],"nice":false,"zero":false},"axis":{"orient":"right","values":[0,5e6,1e7,1.5e7,2e7,2.5e7,3e7],"tickSize":{"condition":{"test":"indexof([0,1e7,2e7,3e7],datum.value)>=0","value":-6},"value":-3},"labels":false,"title":null}}}}
  ],
  "resolve":{"axis":{"x":"independent","y":"independent"}}},
 {"width":233,"height":95,"data":{"name":"am_r4"},
  "layer":[
   {"mark":{"type":"line","color":"black","strokeWidth":1.5,"interpolate":"monotone","clip":true},
    "encoding":{
     "x":{"field":"x","type":"quantitative","scale":{"domain":[0,0.05],"nice":false,"zero":false},"axis":{"orient":"bottom","values":[0,0.01,0.02,0.03,0.04],"tickSize":{"condition":{"test":"indexof([0,0.02,0.04],datum.value)>=0","value":-6},"value":-3},"labels":false,"title":null}},
     "y":{"field":"y","type":"quantitative","scale":{"domain":[-171000,16600],"nice":false,"zero":false},"axis":{"orient":"left","values":[-150000,-100000,-50000,0],"tickSize":{"condition":{"test":"indexof([-100000,0],datum.value)>=0","value":-6},"value":-3},"labelExpr":"indexof([-100000,0],datum.value)>=0 ? ['-1.0e+5','0.0e+0'][indexof([-100000,0],datum.value)] : ''","title":null,"minExtent":54}}}},
   {"mark":{"type":"line","strokeOpacity":0},
    "encoding":{
     "x":{"field":"x","type":"quantitative","scale":{"domain":[0,0.05],"nice":false,"zero":false},"axis":{"orient":"top","values":[0,0.01,0.02,0.03,0.04],"tickSize":{"condition":{"test":"indexof([0,0.02,0.04],datum.value)>=0","value":-6},"value":-3},"labels":false,"title":null}},
     "y":{"field":"y","type":"quantitative","scale":{"domain":[-171000,16600],"nice":false,"zero":false},"axis":{"orient":"right","values":[-150000,-100000,-50000,0],"tickSize":{"condition":{"test":"indexof([-100000,0],datum.value)>=0","value":-6},"value":-3},"labels":false,"title":null}}}}
  ],
  "resolve":{"axis":{"x":"independent","y":"independent"}}},
 {"width":233,"height":95,"data":{"name":"by_r4"},
  "layer":[
   {"mark":{"type":"line","color":"black","strokeWidth":1.5,"interpolate":"monotone","clip":true},
    "encoding":{
     "x":{"field":"x","type":"quantitative","scale":{"domain":[0,0.05],"nice":false,"zero":false},"axis":{"orient":"bottom","values":[0,0.01,0.02,0.03,0.04],"tickSize":{"condition":{"test":"indexof([0,0.02,0.04],datum.value)>=0","value":-6},"value":-3},"labels":false,"title":null}},
     "y":{"field":"y","type":"quantitative","scale":{"domain":[-52,348],"nice":false,"zero":false},"axis":{"orient":"left","values":[0,50,100,150,200,250,300],"tickSize":{"condition":{"test":"indexof([0,100,200,300],datum.value)>=0","value":-6},"value":-3},"labelExpr":"indexof([0,100,200,300],datum.value)>=0 ? ['0','100','200','300'][indexof([0,100,200,300],datum.value)] : ''","title":null,"minExtent":54}}}},
   {"mark":{"type":"line","strokeOpacity":0},
    "encoding":{
     "x":{"field":"x","type":"quantitative","scale":{"domain":[0,0.05],"nice":false,"zero":false},"axis":{"orient":"top","values":[0,0.01,0.02,0.03,0.04],"tickSize":{"condition":{"test":"indexof([0,0.02,0.04],datum.value)>=0","value":-6},"value":-3},"labels":false,"title":null}},
     "y":{"field":"y","type":"quantitative","scale":{"domain":[-52,348],"nice":false,"zero":false},"axis":{"orient":"right","values":[0,50,100,150,200,250,300],"tickSize":{"condition":{"test":"indexof([0,100,200,300],datum.value)>=0","value":-6},"value":-3},"labels":false,"title":null}}}}
  ],
  "resolve":{"axis":{"x":"independent","y":"independent"}}},

 {"width":203,"height":95,"data":{"name":"dens_r5"},
  "layer":[
   {"mark":{"type":"line","strokeWidth":1.5,"interpolate":"monotone","clip":true},
    "encoding":{
     "x":{"field":"x","type":"quantitative","scale":{"domain":[0,0.05],"nice":false,"zero":false},"axis":{"orient":"bottom","values":[0,0.01,0.02,0.03,0.04],"tickSize":{"condition":{"test":"indexof([0,0.02,0.04],datum.value)>=0","value":-6},"value":-3},"labelPadding":13,"labelExpr":"indexof([0,0.02,0.04],datum.value)>=0 ? format(datum.value,'.2f') : ''","title":null}},
     "y":{"field":"y","type":"quantitative","scale":{"domain":[0,0.8],"nice":false,"zero":false},"axis":{"orient":"left","values":[0,0.2,0.4,0.6,0.8],"tickSize":{"condition":{"test":"indexof([0,0.4,0.8],datum.value)>=0","value":-6},"value":-3},"labelExpr":"indexof([0,0.4,0.8],datum.value)>=0 ? ['0.0','0.4','0.8'][indexof([0,0.4,0.8],datum.value)] : ''","title":"time = 1.126e-7","titlePadding":15,"minExtent":26}},
     "color":{"field":"z","type":"quantitative","scale":{"domain":[0,0.6,2.45,4.3,6.15,8],"range":["#8c8c8c","#440154","#3b528b","#21918c","#5ec962","#fde725"],"nice":false,"zero":false},"legend":{"values":[0,8],"title":null,"gradientLength":95,"gradientThickness":11,"gradientStrokeColor":"black","gradientStrokeWidth":1.5,"offset":6,"labelPadding":6,"labelOverlap":false,"direction":"vertical","orient":"right","encode":{"labels":{"update":{"baseline":{"value":"middle"}}}}}},
     "detail":{"field":"seg"}}},
   {"mark":{"type":"line","strokeOpacity":0},
    "encoding":{
     "x":{"field":"x","type":"quantitative","scale":{"domain":[0,0.05],"nice":false,"zero":false},"axis":{"orient":"top","values":[0,0.01,0.02,0.03,0.04],"tickSize":{"condition":{"test":"indexof([0,0.02,0.04],datum.value)>=0","value":-6},"value":-3},"labels":false,"title":null}},
     "y":{"field":"y","type":"quantitative","scale":{"domain":[0,0.8],"nice":false,"zero":false},"axis":{"orient":"right","values":[0,0.2,0.4,0.6,0.8],"tickSize":{"condition":{"test":"indexof([0,0.4,0.8],datum.value)>=0","value":-6},"value":-3},"labels":false,"title":null}}}}
  ],
  "resolve":{"axis":{"x":"independent","y":"independent"}}},
 {"width":233,"height":95,"data":{"name":"zc_r5"},
  "layer":[
   {"mark":{"type":"line","color":"black","strokeWidth":1.5,"interpolate":"monotone","clip":true},
    "encoding":{
     "x":{"field":"x","type":"quantitative","scale":{"domain":[0,0.05],"nice":false,"zero":false},"axis":{"orient":"bottom","values":[0,0.01,0.02,0.03,0.04],"tickSize":{"condition":{"test":"indexof([0,0.02,0.04],datum.value)>=0","value":-6},"value":-3},"labelPadding":13,"labelExpr":"indexof([0,0.02,0.04],datum.value)>=0 ? format(datum.value,'.2f') : ''","title":null}},
     "y":{"field":"y","type":"quantitative","scale":{"domain":[-2.96e11,3e11],"nice":false,"zero":false},"axis":{"orient":"left","values":[-2e11,-1e11,0,1e11,2e11],"tickSize":{"condition":{"test":"indexof([-2e11,0,2e11],datum.value)>=0","value":-6},"value":-3},"labelExpr":"indexof([-2e11,0,2e11],datum.value)>=0 ? ['-2e+11','0e+0','2e+11'][indexof([-2e11,0,2e11],datum.value)] : ''","title":null,"minExtent":54}}}},
   {"mark":{"type":"line","strokeOpacity":0},
    "encoding":{
     "x":{"field":"x","type":"quantitative","scale":{"domain":[0,0.05],"nice":false,"zero":false},"axis":{"orient":"top","values":[0,0.01,0.02,0.03,0.04],"tickSize":{"condition":{"test":"indexof([0,0.02,0.04],datum.value)>=0","value":-6},"value":-3},"labels":false,"title":null}},
     "y":{"field":"y","type":"quantitative","scale":{"domain":[-2.96e11,3e11],"nice":false,"zero":false},"axis":{"orient":"right","values":[-2e11,-1e11,0,1e11,2e11],"tickSize":{"condition":{"test":"indexof([-2e11,0,2e11],datum.value)>=0","value":-6},"value":-3},"labels":false,"title":null}}}}
  ],
  "resolve":{"axis":{"x":"independent","y":"independent"}}},
 {"width":233,"height":95,"data":{"name":"te_r5"},
  "layer":[
   {"mark":{"type":"line","color":"black","strokeWidth":1.5,"interpolate":"monotone","clip":true},
    "encoding":{
     "x":{"field":"x","type":"quantitative","scale":{"domain":[0,0.05],"nice":false,"zero":false},"axis":{"orient":"bottom","values":[0,0.01,0.02,0.03,0.04],"tickSize":{"condition":{"test":"indexof([0,0.02,0.04],datum.value)>=0","value":-6},"value":-3},"labelPadding":13,"labelExpr":"indexof([0,0.02,0.04],datum.value)>=0 ? format(datum.value,'.2f') : ''","title":null}},
     "y":{"field":"y","type":"quantitative","scale":{"domain":[0,8e7],"nice":false,"zero":false},"axis":{"orient":"left","values":[0,2e7,4e7,6e7,8e7],"tickSize":{"condition":{"test":"indexof([0,4e7,8e7],datum.value)>=0","value":-6},"value":-3},"labelExpr":"indexof([0,4e7,8e7],datum.value)>=0 ? ['0e+0','4e+7','8e+7'][indexof([0,4e7,8e7],datum.value)] : ''","title":null,"minExtent":54}}}},
   {"mark":{"type":"line","strokeOpacity":0},
    "encoding":{
     "x":{"field":"x","type":"quantitative","scale":{"domain":[0,0.05],"nice":false,"zero":false},"axis":{"orient":"top","values":[0,0.01,0.02,0.03,0.04],"tickSize":{"condition":{"test":"indexof([0,0.02,0.04],datum.value)>=0","value":-6},"value":-3},"labels":false,"title":null}},
     "y":{"field":"y","type":"quantitative","scale":{"domain":[0,8e7],"nice":false,"zero":false},"axis":{"orient":"right","values":[0,2e7,4e7,6e7,8e7],"tickSize":{"condition":{"test":"indexof([0,4e7,8e7],datum.value)>=0","value":-6},"value":-3},"labels":false,"title":null}}}}
  ],
  "resolve":{"axis":{"x":"independent","y":"independent"}}},
 {"width":233,"height":95,"data":{"name":"am_r5"},
  "layer":[
   {"mark":{"type":"line","color":"black","strokeWidth":1.5,"interpolate":"monotone","clip":true},
    "encoding":{
     "x":{"field":"x","type":"quantitative","scale":{"domain":[0,0.05],"nice":false,"zero":false},"axis":{"orient":"bottom","values":[0,0.01,0.02,0.03,0.04],"tickSize":{"condition":{"test":"indexof([0,0.02,0.04],datum.value)>=0","value":-6},"value":-3},"labelPadding":13,"labelExpr":"indexof([0,0.02,0.04],datum.value)>=0 ? format(datum.value,'.2f') : ''","title":null}},
     "y":{"field":"y","type":"quantitative","scale":{"domain":[-200000,19300],"nice":false,"zero":false},"axis":{"orient":"left","values":[-200000,-150000,-100000,-50000,0],"tickSize":{"condition":{"test":"indexof([-200000,-100000,0],datum.value)>=0","value":-6},"value":-3},"labelExpr":"indexof([-200000,-100000,0],datum.value)>=0 ? ['-2.0e+5','-1.0e+5','0.0e+0'][indexof([-200000,-100000,0],datum.value)] : ''","title":null,"minExtent":54}}}},
   {"mark":{"type":"line","strokeOpacity":0},
    "encoding":{
     "x":{"field":"x","type":"quantitative","scale":{"domain":[0,0.05],"nice":false,"zero":false},"axis":{"orient":"top","values":[0,0.01,0.02,0.03,0.04],"tickSize":{"condition":{"test":"indexof([0,0.02,0.04],datum.value)>=0","value":-6},"value":-3},"labels":false,"title":null}},
     "y":{"field":"y","type":"quantitative","scale":{"domain":[-200000,19300],"nice":false,"zero":false},"axis":{"orient":"right","values":[-200000,-150000,-100000,-50000,0],"tickSize":{"condition":{"test":"indexof([-200000,-100000,0],datum.value)>=0","value":-6},"value":-3},"labels":false,"title":null}}}}
  ],
  "resolve":{"axis":{"x":"independent","y":"independent"}}},
 {"width":233,"height":95,"data":{"name":"by_r5"},
  "layer":[
   {"mark":{"type":"line","color":"black","strokeWidth":1.5,"interpolate":"monotone","clip":true},
    "encoding":{
     "x":{"field":"x","type":"quantitative","scale":{"domain":[0,0.05],"nice":false,"zero":false},"axis":{"orient":"bottom","values":[0,0.01,0.02,0.03,0.04],"tickSize":{"condition":{"test":"indexof([0,0.02,0.04],datum.value)>=0","value":-6},"value":-3},"labelPadding":13,"labelExpr":"indexof([0,0.02,0.04],datum.value)>=0 ? format(datum.value,'.2f') : ''","title":null}},
     "y":{"field":"y","type":"quantitative","scale":{"domain":[-48,502],"nice":false,"zero":false},"axis":{"orient":"left","values":[0,100,200,300,400],"tickSize":{"condition":{"test":"indexof([0,200,400],datum.value)>=0","value":-6},"value":-3},"labelExpr":"indexof([0,200,400],datum.value)>=0 ? ['0','200','400'][indexof([0,200,400],datum.value)] : ''","title":null,"minExtent":54}}}},
   {"mark":{"type":"line","strokeOpacity":0},
    "encoding":{
     "x":{"field":"x","type":"quantitative","scale":{"domain":[0,0.05],"nice":false,"zero":false},"axis":{"orient":"top","values":[0,0.01,0.02,0.03,0.04],"tickSize":{"condition":{"test":"indexof([0,0.02,0.04],datum.value)>=0","value":-6},"value":-3},"labels":false,"title":null}},
     "y":{"field":"y","type":"quantitative","scale":{"domain":[-48,502],"nice":false,"zero":false},"axis":{"orient":"right","values":[0,100,200,300,400],"tickSize":{"condition":{"test":"indexof([0,200,400],datum.value)>=0","value":-6},"value":-3},"labels":false,"title":null}}}}
  ],
  "resolve":{"axis":{"x":"independent","y":"independent"}}}
]
}
